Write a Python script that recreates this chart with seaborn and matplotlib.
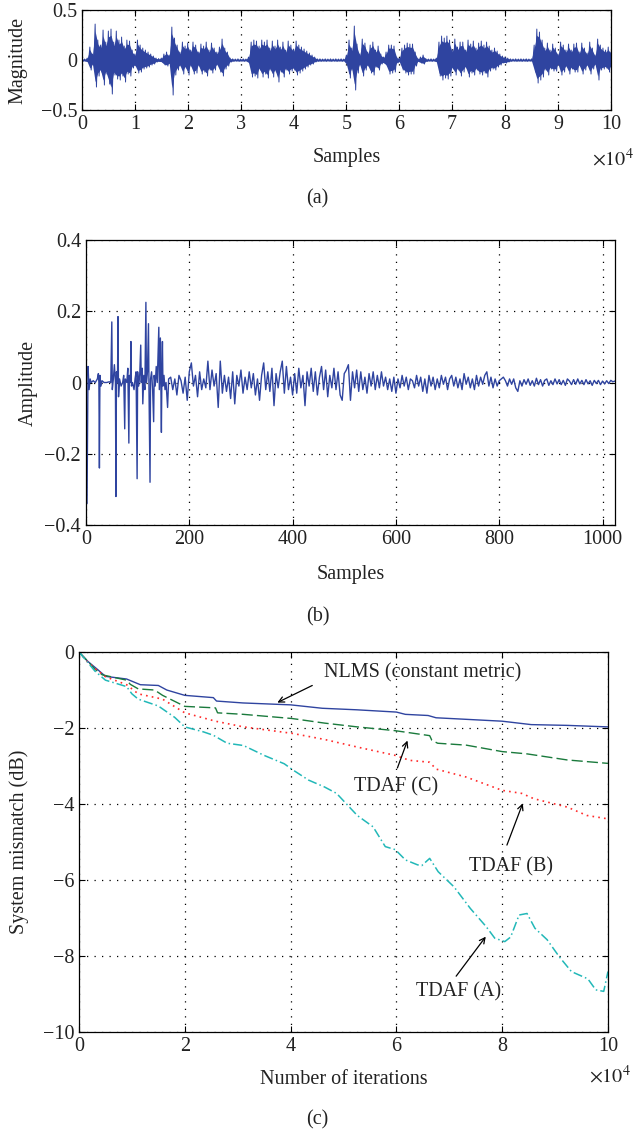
import numpy as np
import seaborn as sns
import matplotlib.pyplot as plt

# (a) enveloppe du signal de parole, un point tous les 500 echantillons
speech_upper = [
    0.01, 0.01, 0.02, 0.13, 0.06, 0.36, 0.20, 0.15, 0.30, 0.18, 0.29, 0.31, 0.18, 0.29, 0.20, 0.23, 0.14, 0.20, 0.19, 0.10,
    0.06, 0.20, 0.15, 0.12, 0.10, 0.08, 0.06, 0.04, 0.02, 0.015, 0.02, 0.06, 0.08, 0.05, 0.33, 0.22, 0.15, 0.08, 0.18, 0.14,
    0.17, 0.10, 0.18, 0.15, 0.08, 0.16, 0.14, 0.18, 0.10, 0.17, 0.12, 0.08, 0.13, 0.21, 0.12, 0.08, 0.02, 0.012, 0.01, 0.012,
    0.01, 0.012, 0.01, 0.03, 0.18, 0.20, 0.19, 0.14, 0.20, 0.18, 0.20, 0.12, 0.19, 0.14, 0.20, 0.13, 0.18, 0.10, 0.19, 0.15,
    0.11, 0.19, 0.15, 0.13, 0.11, 0.09, 0.07, 0.05, 0.03, 0.012, 0.012, 0.01, 0.012, 0.01, 0.012, 0.01, 0.012, 0.01, 0.012, 0.01,
    0.05, 0.20, 0.12, 0.34, 0.16, 0.06, 0.21, 0.17, 0.08, 0.15, 0.18, 0.10, 0.14, 0.06, 0.03, 0.08, 0.15, 0.15, 0.14, 0.03,
    0.02, 0.12, 0.15, 0.17, 0.16, 0.16, 0.08, 0.015, 0.03, 0.05, 0.015, 0.01, 0.012, 0.01, 0.02, 0.18, 0.24, 0.22, 0.24, 0.20,
    0.10, 0.21, 0.13, 0.18, 0.18, 0.10, 0.20, 0.16, 0.19, 0.12, 0.17, 0.19, 0.15, 0.18, 0.14, 0.10, 0.12, 0.09, 0.06, 0.04,
    0.03, 0.02, 0.012, 0.01, 0.012, 0.01, 0.012, 0.01, 0.012, 0.01, 0.012, 0.15, 0.31, 0.28, 0.20, 0.12, 0.17, 0.10, 0.16, 0.12,
    0.06, 0.18, 0.15, 0.10, 0.16, 0.10, 0.16, 0.17, 0.08, 0.17, 0.12, 0.07, 0.18, 0.12, 0.05, 0.21, 0.15, 0.12, 0.10, 0.13,
    0.08]
speech_lower = [
    -0.01, -0.01, -0.02, -0.10, -0.05, -0.27, -0.16, -0.12, -0.25, -0.14, -0.24, -0.34, -0.15, -0.19, -0.20, -0.16, -0.22, -0.14, -0.16, -0.08,
    -0.06, -0.13, -0.12, -0.09, -0.08, -0.07, -0.05, -0.04, -0.02, -0.015, -0.02, -0.05, -0.06, -0.04, -0.35, -0.15, -0.10, -0.06, -0.14, -0.08,
    -0.15, -0.06, -0.14, -0.13, -0.06, -0.14, -0.12, -0.16, -0.10, -0.13, -0.10, -0.05, -0.12, -0.16, -0.09, -0.06, -0.02, -0.012, -0.01, -0.012,
    -0.01, -0.012, -0.01, -0.03, -0.17, -0.16, -0.18, -0.10, -0.17, -0.14, -0.18, -0.10, -0.17, -0.12, -0.22, -0.12, -0.17, -0.10, -0.14, -0.11,
    -0.10, -0.15, -0.13, -0.11, -0.09, -0.07, -0.05, -0.04, -0.02, -0.012, -0.012, -0.01, -0.012, -0.01, -0.012, -0.01, -0.012, -0.01, -0.012, -0.01,
    -0.05, -0.18, -0.10, -0.30, -0.13, -0.05, -0.16, -0.10, -0.06, -0.13, -0.15, -0.07, -0.10, -0.04, -0.03, -0.06, -0.14, -0.13, -0.12, -0.03,
    -0.02, -0.10, -0.13, -0.15, -0.14, -0.14, -0.06, -0.015, -0.03, -0.04, -0.015, -0.01, -0.012, -0.01, -0.02, -0.16, -0.20, -0.18, -0.19, -0.16,
    -0.09, -0.15, -0.10, -0.16, -0.12, -0.08, -0.17, -0.13, -0.15, -0.10, -0.14, -0.15, -0.13, -0.17, -0.11, -0.09, -0.10, -0.07, -0.05, -0.03,
    -0.03, -0.02, -0.012, -0.01, -0.012, -0.01, -0.012, -0.01, -0.012, -0.01, -0.012, -0.12, -0.23, -0.20, -0.17, -0.10, -0.15, -0.09, -0.11, -0.11,
    -0.05, -0.15, -0.12, -0.07, -0.14, -0.09, -0.12, -0.12, -0.06, -0.14, -0.10, -0.06, -0.14, -0.09, -0.05, -0.20, -0.10, -0.09, -0.08, -0.12,
    -0.07]
speech_step = 500

# (b) reponse impulsionnelle : debut (pics) puis queue tous les 4 echantillons
imp_head_n = [0, 2, 4, 6, 8, 10, 14, 18, 22, 24, 25, 26, 27, 29, 31, 35, 40, 45, 48, 50,
              51, 53, 55, 57, 58, 59, 61, 62, 63, 65, 68, 71, 73, 75, 76, 79, 81, 83, 84, 86,
              87, 88, 90, 93, 95, 97, 99, 100, 102, 104, 106, 107, 109, 110, 112, 114, 116, 117, 119, 121,
              122, 124, 125, 127, 129, 131, 132, 134, 136, 138, 141, 142, 144, 145, 146, 147, 148, 149, 151, 153,
              155, 158, 160]
imp_head_v = [-0.17, -0.34, 0.045, -0.02, 0.01, 0.0, 0.005, 0.0, 0.01, 0.025, 0.0, -0.24, 0.02, -0.01, 0.005, 0.0, 0.0, 0.002, 0.0, 0.17,
              -0.02, 0.01, 0.05, 0.0, -0.32, 0.03, 0.0, 0.185, -0.04, 0.01, -0.01, 0.0, 0.02, -0.13, 0.01, 0.0, 0.04, -0.17, 0.02, 0.0,
              0.115, -0.01, 0.0, -0.02, 0.01, 0.03, -0.27, 0.03, -0.01, 0.02, 0.105, 0.0, 0.04, -0.06, 0.02, -0.02, 0.225, 0.0, 0.03, 0.165,
              -0.02, -0.28, 0.01, 0.03, -0.02, -0.11, 0.02, -0.01, 0.045, 0.0, 0.155, -0.02, 0.125, 0.0, -0.14, 0.03, 0.115, -0.01, 0.02, -0.02,
              0.0, -0.07, 0.01]
imp_tail_start = 164
imp_tail_step = 4
imp_tail_v = [
    0.015, -0.02, 0.01, -0.035, 0.02, 0.005, -0.03, 0.015, -0.05, 0.03,
    0.055, -0.01, 0.02, -0.04, 0.03, -0.02, 0.01, -0.015, 0.06, -0.02,
    0.035, -0.01, 0.025, -0.07, 0.06, -0.03, 0.02, -0.025, 0.015, -0.045,
    0.03, -0.06, 0.02, -0.01, 0.035, -0.03, 0.015, -0.02, 0.03, -0.015,
    0.025, -0.035, 0.01, -0.05, 0.02, 0.055, -0.02, 0.03, -0.025, 0.04,
    -0.065, 0.025, -0.015, 0.03, 0.06, -0.03, 0.045, -0.02, 0.015, -0.035,
    0.025, -0.03, 0.04, -0.015, 0.02, -0.065, 0.03, -0.01, 0.04, -0.025,
    0.03, -0.035, 0.015, 0.045, -0.02, 0.035, -0.04, 0.02, -0.015, 0.04,
    -0.02, 0.03, -0.035, -0.05, 0.025, 0.035, 0.05, -0.05, 0.03, -0.015,
    0.035, -0.025, 0.03, -0.02, 0.015, -0.03, 0.025, -0.01, 0.03, -0.02,
    0.02, -0.015, 0.03, -0.01, 0.015, -0.02, 0.01, -0.025, 0.015, -0.03,
    0.01, -0.015, 0.02, -0.01, 0.015, -0.02, 0.01, 0.005, -0.015, 0.02,
    -0.01, 0.015, -0.025, 0.01, -0.03, 0.02, -0.01, 0.015, -0.02, 0.01,
    -0.015, 0.02, -0.005, 0.015, -0.02, 0.01, 0.02, -0.01, 0.015, -0.015,
    0.01, -0.02, 0.025, -0.005, 0.015, -0.015, 0.01, -0.02, 0.02, -0.01,
    0.015, -0.005, 0.02, 0.03, -0.01, 0.015, -0.015, 0.01, -0.01, 0.005,
    0.01, 0.015, 0.005, -0.01, 0.01, -0.005, 0.01, -0.015, -0.025, 0.005,
    -0.01, 0.008, -0.005, 0.01, -0.008, 0.005, -0.01, 0.012, -0.006, 0.008,
    -0.01, 0.006, 0.01, -0.008, 0.005, -0.006, 0.01, -0.004, 0.008, -0.006,
    0.006, -0.008, 0.01, 0.004, -0.006, 0.008, -0.005, 0.01, -0.004, 0.006,
    -0.006, 0.008, -0.004, 0.005, -0.008, 0.006, -0.003, 0.006, -0.006, 0.004,
    -0.004, 0.005, -0.003, 0.006, 0.002, 0.004]

# (c) courbes d'apprentissage (desalignement en dB)
nlms_x = [0, 1700, 3600, 5000, 9000, 11600, 15000, 16600, 20000, 25400, 26000, 31000, 40000, 46000,
          52500, 60000, 61700, 66000, 67500, 71700, 80000, 85500, 92300, 100000]
nlms_y = [0, -0.25, -0.47, -0.64, -0.71, -0.86, -0.88, -1.0, -1.14, -1.2, -1.29, -1.34, -1.39, -1.48,
          -1.52, -1.58, -1.64, -1.67, -1.73, -1.76, -1.82, -1.91, -1.93, -1.97]
tdafc_x = [0, 1700, 3000, 4400, 9000, 9700, 11200, 14300, 15800, 20000, 25800, 26200, 31100, 40300,
           46400, 52600, 59800, 66300, 66700, 67800, 73200, 80000, 84700, 92300, 100000]
tdafc_y = [0, -0.25, -0.45, -0.6, -0.74, -0.85, -0.97, -1.0, -1.14, -1.43, -1.47, -1.6, -1.64, -1.75,
           -1.87, -1.97, -2.07, -2.2, -2.32, -2.4, -2.45, -2.62, -2.68, -2.84, -2.93]
tdafb_x = [0, 1700, 3000, 5000, 9000, 11200, 15800, 20000, 25800, 31100, 40300, 46400, 52600, 59800,
           62500, 66300, 67500, 73200, 80000, 83700, 86000, 92300, 96000, 100000]
tdafb_y = [0, -0.27, -0.43, -0.65, -0.86, -1.1, -1.24, -1.6, -1.82, -1.97, -2.14, -2.3, -2.5, -2.72,
           -2.85, -2.9, -3.08, -3.29, -3.64, -3.72, -3.86, -4.08, -4.3, -4.39]
tdafa_x = [0, 1700, 3000, 5000, 9000, 10000, 11200, 15000, 18100, 20000, 23500, 25400, 28000, 31100, 35000,
           38800, 40300, 43400, 46400, 48700, 52600, 55600, 57900, 59800, 61700, 64000, 64800, 66300, 67900,
           70900, 74000, 77000, 78600, 80500, 81600, 83200, 84700, 86200, 88500, 90800, 93100, 96200, 97700,
           99200, 100000]
tdafa_y = [0, -0.28, -0.5, -0.74, -0.91, -1.1, -1.24, -1.42, -1.72, -1.97, -2.1, -2.19, -2.4, -2.46, -2.72,
           -2.94, -3.09, -3.37, -3.55, -3.72, -4.3, -4.6, -5.12, -5.2, -5.47, -5.6, -5.62, -5.43, -5.78,
           -6.18, -6.75, -7.23, -7.53, -7.62, -7.5, -6.92, -6.88, -7.27, -7.57, -8.02, -8.41, -8.6, -8.89,
           -8.93, -8.41]

sns.set_style("ticks")
plt.rcParams['font.family'] = ['Liberation Serif', 'DejaVu Serif']
plt.rcParams['mathtext.fontset'] = 'stix'

BLEU = '#2f44a0'
TXT = '#222222'
FS = 14.5

fig = plt.figure(figsize=(6.35, 11.32), dpi=100)


def style_axes(ax):
    ax.grid(True, linestyle=(0, (1, 5)), color='k', lw=0.9)
    ax.tick_params(direction='in', top=True, right=True, labelsize=FS, length=4.5,
                   colors='k', labelcolor=TXT, width=0.8)
    for sp in ax.spines.values():
        sp.set_color('k')
        sp.set_linewidth(0.9)


## Panneau (a) : signal de parole
ax_a = fig.add_axes([0.129, 0.9028, 0.833, 0.0883])
x_speech = np.arange(len(speech_upper)) * speech_step
ax_a.fill_between(x_speech, np.array(speech_lower) * 0.8, np.array(speech_upper) * 0.8, color=BLEU, lw=0)
zig_x = np.ravel(np.column_stack([x_speech, x_speech + speech_step / 2]))
zig_y = np.ravel(np.column_stack([speech_upper, speech_lower]))
sns.lineplot(x=zig_x, y=zig_y, ax=ax_a, color=BLEU, lw=0.7, sort=False, estimator=None)
ax_a.set_xlim(0, 100000)
ax_a.set_ylim(-0.5, 0.5)
ax_a.set_xticks(np.arange(0, 100001, 10000))
ax_a.set_xticklabels([str(i) for i in range(11)])
ax_a.set_yticks([-0.5, 0, 0.5])
ax_a.set_yticklabels(['\u22120.5', '0', '0.5'])
style_axes(ax_a)
ax_a.set_xlabel('Samples', fontsize=FS, color=TXT)
ax_a.set_ylabel('Magnitude', fontsize=FS, color=TXT)
ax_a.xaxis.set_label_coords(0.5, -0.38)
ax_a.yaxis.set_label_coords(-0.103, 0.5)
fig.text(592 / 635, 1 - 160 / 1132, r'$\times10^4$', fontsize=FS, color=TXT, ha='left', va='center')
fig.text(0.5, 1 - 199 / 1132, '(a)', fontsize=FS, color=TXT, ha='center', va='center')

## Panneau (b) : reponse impulsionnelle
ax_b = fig.add_axes([0.1354, 0.5362, 0.833, 0.2518])
imp_tail_n = imp_tail_start + imp_tail_step * np.arange(len(imp_tail_v))
imp_n = np.concatenate([imp_head_n, imp_tail_n])
imp_v = np.concatenate([imp_head_v, imp_tail_v])
sns.lineplot(x=imp_n, y=imp_v, ax=ax_b, color=BLEU, lw=1.0, sort=False, estimator=None)
ax_b.set_xlim(0, 1024)
ax_b.set_ylim(-0.4, 0.4)
ax_b.set_xticks([0, 200, 400, 600, 800, 1000])
ax_b.set_yticks([-0.4, -0.2, 0, 0.2, 0.4])
ax_b.set_yticklabels(['\u22120.4', '\u22120.2', '0', '0.2', '0.4'])
style_axes(ax_b)
ax_b.set_xlabel('Samples', fontsize=FS, color=TXT)
ax_b.set_ylabel('Amplitude', fontsize=FS, color=TXT)
ax_b.xaxis.set_label_coords(0.5, -0.14)
ax_b.yaxis.set_label_coords(-0.092, 0.5)
fig.text(0.5, 1 - 617 / 1132, '(b)', fontsize=FS, color=TXT, ha='center', va='center')

## Panneau (c) : courbes de desalignement
ax_c = fig.add_axes([0.1244, 0.0883, 0.833, 0.3357])
sns.lineplot(x=nlms_x, y=nlms_y, ax=ax_c, color=BLEU, lw=1.0, sort=False, estimator=None)
sns.lineplot(x=tdafc_x, y=tdafc_y, ax=ax_c, color='#1a7a3c', lw=1.0, sort=False, estimator=None,
             linestyle=(0, (8, 3)))
sns.lineplot(x=tdafb_x, y=tdafb_y, ax=ax_c, color='#ff2a2a', lw=1.2, sort=False, estimator=None,
             linestyle=(0, (1, 2.5)))
sns.lineplot(x=tdafa_x, y=tdafa_y, ax=ax_c, color='#22b8b8', lw=1.1, sort=False, estimator=None,
             linestyle=(0, (6, 2, 1, 2)))
ax_c.set_xlim(0, 100000)
ax_c.set_ylim(-10, 0)
ax_c.set_xticks(np.arange(0, 100001, 20000))
ax_c.set_xticklabels(['0', '2', '4', '6', '8', '10'])
ax_c.set_yticks(np.arange(-10, 1, 2))
ax_c.set_yticklabels(['\u221210', '\u22128', '\u22126', '\u22124', '\u22122', '0'])
style_axes(ax_c)
ax_c.set_xlabel('Number of iterations', fontsize=FS, color=TXT)
ax_c.set_ylabel('System mismatch (dB)', fontsize=FS, color=TXT)
ax_c.xaxis.set_label_coords(0.5, -0.1)
ax_c.yaxis.set_label_coords(-0.095, 0.5)

fleche = dict(arrowstyle='->', color='k', lw=0.9, shrinkA=0, shrinkB=0)
ax_c.text(46400, -0.54, 'NLMS (constant metric)', fontsize=FS, color=TXT, ha='left', va='center')
ax_c.annotate('', xy=(37500, -1.33), xytext=(44100, -0.88), arrowprops=fleche)
ax_c.text(60000, -3.54, 'TDAF (C)', fontsize=FS, color=TXT, ha='center', va='center')
ax_c.annotate('', xy=(62100, -2.33), xytext=(60200, -3.05), arrowprops=fleche)
ax_c.text(81700, -5.65, 'TDAF (B)', fontsize=FS, color=TXT, ha='center', va='center')
ax_c.annotate('', xy=(83900, -3.98), xytext=(80900, -5.08), arrowprops=fleche)
ax_c.text(71700, -8.94, 'TDAF (A)', fontsize=FS, color=TXT, ha='center', va='center')
ax_c.annotate('', xy=(76900, -7.49), xytext=(71300, -8.53), arrowprops=fleche)

fig.text(589 / 635, 1 - 1077 / 1132, r'$\times10^4$', fontsize=FS, color=TXT, ha='left', va='center')
fig.text(0.5, 1 - 1120 / 1132, '(c)', fontsize=FS, color=TXT, ha='center', va='center')

plt.savefig('out.png', dpi=100)
